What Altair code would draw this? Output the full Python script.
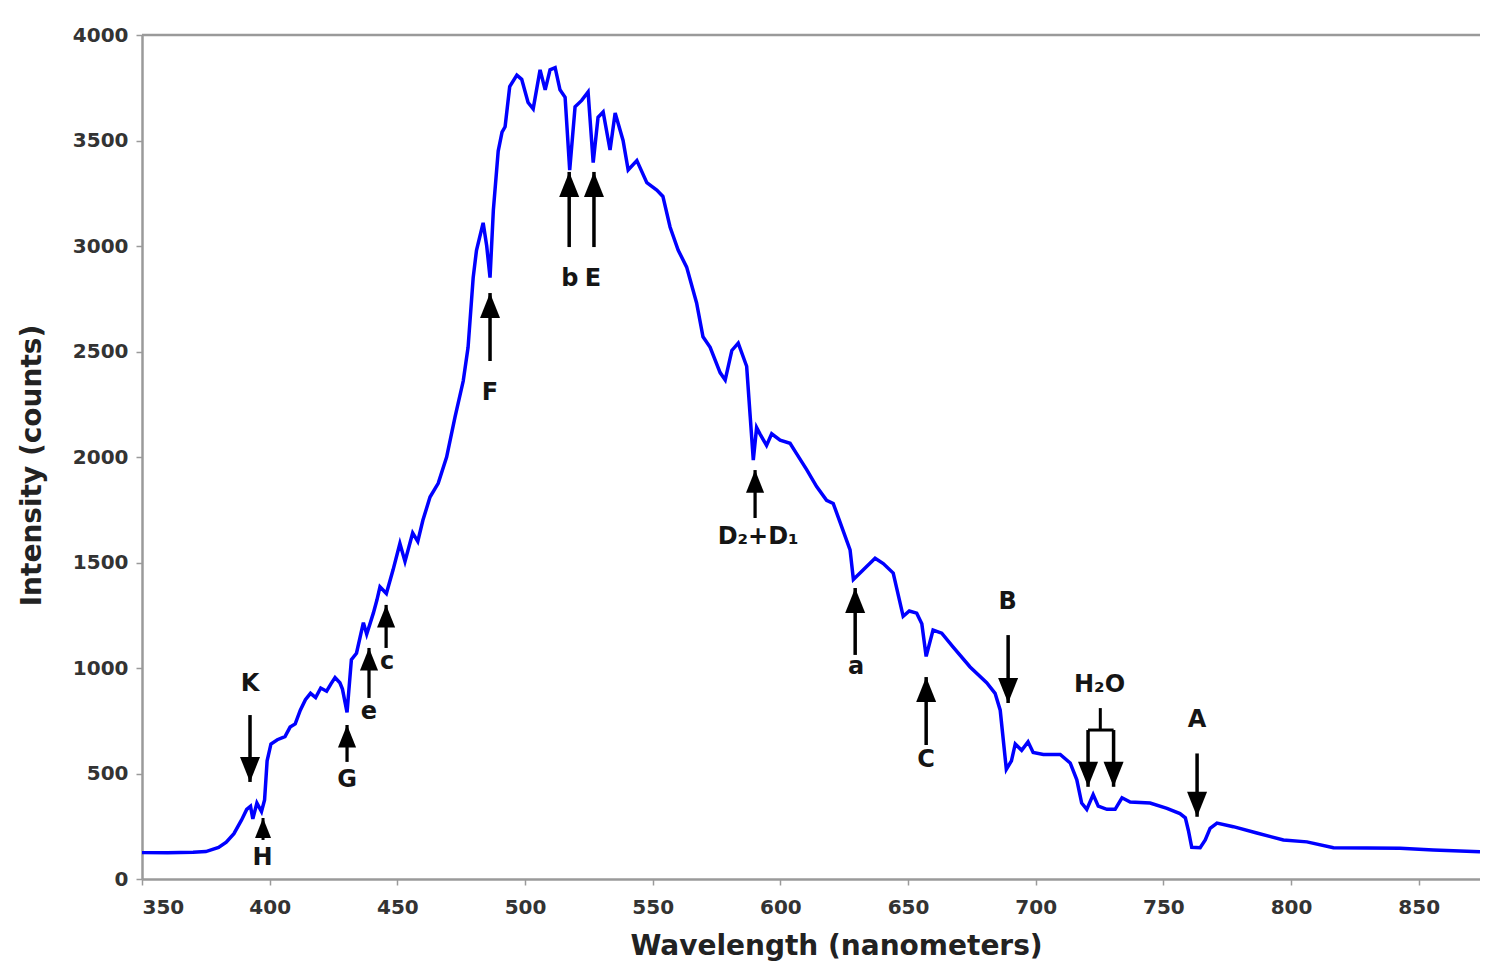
import altair as alt
import pandas as pd

# ---- spectrum (wavelength nm, intensity counts) ----
wavelength = [350, 360, 370, 375, 380, 383, 386, 389, 391, 392.5, 393.4, 395, 396.8, 398,
              399, 400.5, 403, 406, 408, 410, 412, 414, 416, 418, 420, 422.3, 424, 425.6,
              427.5, 428.5, 430.3, 432, 434, 436.7, 438, 440.6, 442, 443.2, 445.7, 448.3,
              451, 453, 456, 458, 460, 462.8, 466, 469.3, 472.6, 475.8, 477.7, 479.7, 481,
              483.6, 485, 486.3, 487.6, 489.5, 491, 492.2, 494, 496.8, 498.7, 501.2, 503.2,
              505.9, 507.9, 509.8, 511.8, 513.7, 515.7, 517.5, 519.6, 522.2, 524.7, 526.7,
              528.6, 530.6, 533.3, 535.3, 538.4, 540.4, 543.8, 547.7, 551.6, 554, 556.8,
              560, 563.3, 567.2, 569.7, 572.5, 576.4, 578.4, 581, 583.5, 586.8, 588.2,
              589.4, 590.7, 592, 594.6, 596.6, 599.9, 603.8, 606.4, 610.3, 614.2, 618.1,
              620.7, 623.4, 627.3, 628.6, 632.4, 637.1, 640.3, 644.2, 648.1, 650.5, 653.4,
              655.4, 657.1, 659.8, 663.2, 667.6, 674.3, 680.8, 684.1, 686.1, 688.5, 690.5,
              692, 694.5, 697, 699, 703, 709.6, 713.5, 716.1, 718, 720, 722.5, 724.5,
              727.9, 731.1, 733.8, 737, 744.8, 751.4, 756.5, 758.6, 759.8, 761.1, 764.4,
              766.4, 768.3, 771, 777.4, 786.6, 797, 806.2, 816.6, 829.7, 842.7, 855.7, 874]
intensity = [125, 124, 127, 130, 150, 175, 215, 280, 330, 345, 285, 360, 320, 375,
             560, 640, 660, 675, 720, 735, 800, 850, 880, 860, 905, 890, 925, 955,
             930, 900, 790, 1040, 1070, 1215, 1160, 1260, 1322, 1385, 1353, 1464,
             1590, 1505, 1640, 1600, 1700, 1810, 1875, 2000, 2190, 2360, 2520, 2850, 2980,
             3110, 3000, 2850, 3170, 3450, 3540, 3565, 3755, 3810, 3790, 3680, 3650,
             3835, 3740, 3835, 3845, 3740, 3705, 3360, 3660, 3690, 3730, 3395,
             3610, 3635, 3455, 3630, 3500, 3360, 3405, 3300, 3265, 3235, 3090,
             2980, 2900, 2730, 2570, 2520, 2400, 2365, 2505, 2540, 2430, 2190,
             1985, 2140, 2110, 2055, 2110, 2080, 2065, 2015, 1940, 1860, 1795,
             1780, 1690, 1560, 1420, 1465, 1520, 1495, 1450, 1245, 1270, 1260,
             1210, 1055, 1180, 1165, 1100, 1005, 930, 880, 800, 520, 560,
             640, 610, 650, 600, 590, 590, 550, 470, 360, 330, 400, 345,
             330, 330, 385, 365, 360, 335, 310, 290, 230, 150, 148,
             185, 240, 265, 248, 218, 185, 176, 148, 147, 146, 137, 129]

# ---- Fraunhofer line arrows ----
arrow_name = ["K", "H", "G", "e", "c", "F", "b", "E", "D", "a", "C", "B", "H2O-1", "H2O-2", "A"]
arrow_nm = [392.3, 397.4, 430.3, 438.9, 445.6, 486.3, 517.3, 527.0, 590.1, 629.3, 657.1,
            689.2, 720.5, 730.5, 763.2]
arrow_tail = [777, 185, 555, 858, 1095, 2455, 2995, 2995, 1711, 1062, 635, 1156, 706, 706, 595]
arrow_tip = [460, 289, 730, 1095, 1299, 2777, 3351, 3351, 1938, 1379, 957, 834, 437, 437, 295]
arrow_dir = ["down", "up", "up", "up", "up", "up", "up", "up", "up", "up", "up",
             "down", "down", "down", "down"]
arrow_cls = ["large", "small", "medium", "medium", "medium", "large", "large", "large",
             "medium", "large", "large", "large", "large", "large", "large"]

# H2O bracket
bracket_nm = [725.3]
bracket_low = [706]
bracket_high = [810]
bracket_left = [720.5]
bracket_right = [730.5]

# ---- labels ----
label_text = ["K", "H", "G", "e", "c", "F", "b", "E", "D\u2082+D\u2081", "a", "C", "B",
              "H\u2082O", "A"]
label_nm = [392.3, 397.2, 430.3, 438.9, 446.0, 486.3, 517.6, 526.6, 591.3, 629.7, 657.1,
            689.0, 725.0, 763.2]
label_v = [924, 100, 469, 791, 1028, 2303, 2844, 2844, 1621, 1005, 564, 1313, 919, 754]

x_ticks = [350, 400, 450, 500, 550, 600, 650, 700, 750, 800, 850]
y_ticks = [0, 500, 1000, 1500, 2000, 2500, 3000, 3500, 4000]
x_domain = [350, 874]
y_domain = [0, 4000]

spec = pd.DataFrame({"nm": wavelength, "v": intensity})
arrows = pd.DataFrame({"name": arrow_name, "nm": arrow_nm, "v": arrow_tip, "tail": arrow_tail,
                       "dir": arrow_dir, "cls": arrow_cls})
bracket = pd.DataFrame({"nm": bracket_nm, "v": bracket_low, "v2": bracket_high,
                        "left": bracket_left, "right": bracket_right})
labels = pd.DataFrame({"text": label_text, "nm": label_nm, "v": label_v})
frame = pd.DataFrame({"nm": [x_domain[0]], "nm2": [x_domain[1]], "v": [y_domain[1]]})

FONT = "DejaVu Sans"
xscale = alt.Scale(domain=x_domain, nice=False, zero=False)
yscale = alt.Scale(domain=y_domain, nice=False)

X = alt.X("nm:Q", scale=xscale, title="Wavelength (nanometers)",
          axis=alt.Axis(values=x_ticks, format="d", grid=False, titleX=694, titleY=75,
                        titleBaseline="alphabetic", titleAlign="center",
                        labelPadding=12))
Y = alt.Y("v:Q", scale=yscale, title="Intensity (counts)",
          axis=alt.Axis(values=y_ticks, format="d", grid=False, titleX=-96, titleY=430,
                        titleAlign="center", titleBaseline="bottom", labelPadding=8))

line = alt.Chart(spec).mark_line(color="#0000ff", strokeWidth=3.5).encode(x=X, y=Y)

top_frame = alt.Chart(frame).mark_rule(color="#9a9a9a", strokeWidth=2.5).encode(
    x=X, x2="nm2:Q", y=Y)

shafts = alt.Chart(arrows).mark_rule(color="black").encode(
    x=X, y=Y, y2="tail:Q",
    strokeWidth=alt.StrokeWidth("cls:N", scale=alt.Scale(domain=["large", "medium", "small"],
                                                          range=[3.5, 3, 2.5]), legend=None))

PATH_UP = "M0,0L-0.4,1L0.4,1Z"
PATH_DOWN = "M0,0L-0.4,-1L0.4,-1Z"
heads = alt.Chart(arrows).mark_point(filled=True, color="black", opacity=1, strokeWidth=0).encode(
    x=X, y=Y,
    shape=alt.Shape("dir:N", scale=alt.Scale(domain=["up", "down"], range=[PATH_UP, PATH_DOWN]),
                    legend=None),
    size=alt.Size("cls:N", scale=alt.Scale(domain=["large", "medium", "small"],
                                           range=[2500, 1600, 484]), legend=None))

bracket_v = alt.Chart(bracket).mark_rule(color="black", strokeWidth=3).encode(
    x=X, y=Y, y2="v2:Q")
bracket_h = alt.Chart(bracket).mark_rule(color="black", strokeWidth=3).encode(
    x=alt.X("left:Q", scale=xscale, title="Wavelength (nanometers)"), x2="right:Q", y=Y)

texts = alt.Chart(labels).mark_text(font=FONT, fontWeight="bold", fontSize=24, color="#151515",
                                    align="center", baseline="middle").encode(
    x=X, y=Y, text="text:N")

chart = alt.layer(top_frame, line, shafts, heads, bracket_v, bracket_h, texts).properties(
    width=1338, height=844,
    autosize=alt.AutoSizeParams(type="none"),
    padding={"left": 134, "top": 27, "right": 0, "bottom": 84},
    background="white",
).configure_view(strokeOpacity=0).configure_axis(
    domainColor="#9a9a9a", domainWidth=2.5, tickColor="#9a9a9a", tickWidth=1.5, tickSize=6,
    labelFont=FONT, labelFontWeight="bold", labelFontSize=20, labelColor="#333333",
    titleFont=FONT, titleFontWeight="bold", titleFontSize=28, titleColor="#222222",
)

chart.save("out.html", embed_options={"renderer": "svg", "actions": False})
